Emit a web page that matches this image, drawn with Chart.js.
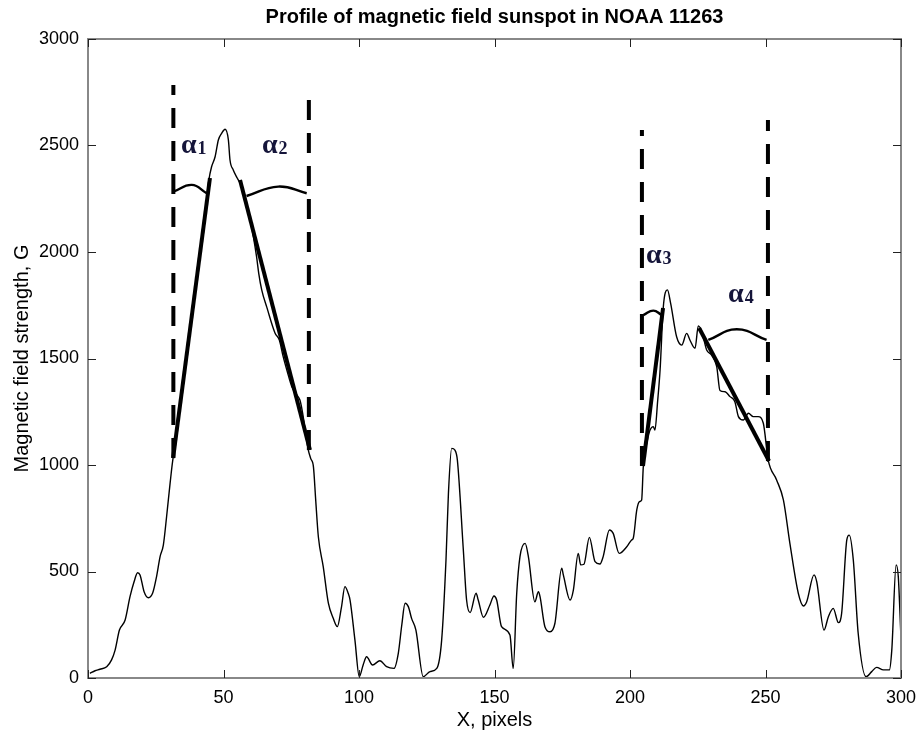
<!DOCTYPE html>
<html>
<head>
<meta charset="utf-8">
<script src="https://cdn.jsdelivr.net/npm/chart.js@4.4.1/dist/chart.umd.min.js"></script>
<style>
  html, body { margin: 0; padding: 0; background: #ffffff; }
  canvas { display: block; }
</style>
</head>
<body>
<canvas id="c" width="916" height="732"></canvas>
<script>
// ---- Data ----
const chartTitle = 'Profile of magnetic field sunspot in NOAA 11263';
const xAxisTitle = 'X, pixels';
const yAxisTitle = 'Magnetic field strength, G';

const xPixels = [0.7,2.6,4.4,6.9,8.7,10,11.6,13.7,15.5,17,18.3,19.2,20.7,22.3,23.9,25.3,26.6,27.8,29,30.3,31.4,32.1,33,34,35,36,37,38,39,40,41,42,43,44.6,45.6,46.9,48.1,49.3,50.6,51.8,52.4,53.6,55.1,56.7,57.9,60,62.2,63,64.1,66,69,70.6,72,73.5,75.2,77,78.2,79.2,80.3,81.3,82.2,83.2,84,85,86.8,88.7,90.5,92,93.5,94.8,96,96.7,98.5,100.1,101.5,102.8,105,107.7,110.2,112.9,114.5,115.8,117,118.2,119.4,121,123.7,126.2,128.7,130.5,132.1,133,134.2,135.4,136.3,138.5,139.7,141,143.2,144,145.9,148.3,149.8,150.8,152.6,155.7,156.9,158.2,159.4,161.3,162.5,164.9,166.2,166.8,168.6,170.5,172.3,174.8,175.4,177.9,179.1,180.9,181.8,183,185,187.1,188.9,190.1,192.4,193.8,196,198.8,200.6,201.2,202.5,203.5,204.3,204.9,206.5,207.4,208.6,209.2,210.2,211.1,212.3,213.8,215,217.2,219.1,220.9,222.1,224,225.2,226.5,228.3,230.1,232,233.2,235.1,236.9,238.7,240,241.8,243.7,245.5,247.3,249.2,251,254.1,256.6,259,262.1,264,265.2,267.9,268.9,271.6,273.2,275,276.9,278.1,280,280.9,282.4,284.2,287.1,289.2,291,293.5,295.7,296.6,298.2,299,299.9];
const fieldG = [22,34,41,53,85,131,225,272,382,452,494,484,405,377,400,476,570,624,757,915,1033,1075,1180,1285,1390,1485,1580,1680,1775,1870,1965,2060,2160,2338,2400,2447,2526,2557,2576,2526,2432,2385,2346,2307,2244,2140,1978,1900,1822,1740,1620,1587,1510,1440,1368,1330,1305,1244,1150,1070,1030,990,840,663,523,351,280,241,330,429,398,366,178,6,60,100,61,81,53,45,116,250,351,335,280,225,6,30,45,178,554,867,1078,1070,1023,601,366,307,398,366,285,343,385,366,241,202,45,398,570,632,570,358,405,382,241,217,257,515,484,366,413,585,531,534,660,546,535,570,695,679,585,616,648,656,789,828,836,990,1120,1164,1180,1164,1300,1446,1743,1822,1759,1602,1563,1618,1587,1548,1653,1626,1540,1516,1462,1350,1344,1321,1297,1227,1211,1243,1227,1227,1196,1023,930,836,632,398,338,358,484,452,225,288,327,260,304,648,671,554,210,6,30,50,38,38,131,531,476,217];

// slope (tangent) lines: [x1, y1, x2, y2]
const slopeLines = [
  [31.4, 1033, 45.0, 2347],
  [56.1, 2338, 81.9, 1070],
  [204.8, 995, 212.2, 1737],
  [225.5, 1643, 251.3, 1019]
];
// dashed verticals: [x, yBottom, yTop]
const verticalLines = [
  [31.5, 1033, 2784],
  [81.5, 1070, 2770],
  [204.4, 995, 2573],
  [250.9, 1019, 2620]
];
// angle arcs: [xStart, yStart, xMid, yMid, xEnd, yEnd]
const angleArcs = [
  [31.5, 2283, 38.3, 2315, 43.8, 2276],
  [58.5, 2263, 70.2, 2307, 80.7, 2276],
  [204.9, 1704, 208.6, 1725, 211.7, 1704],
  [228.9, 1587, 239.4, 1637, 250.4, 1587]
];
// angle labels: [text, subscript, x, y(baseline)]
const angleLabels = [
  ['α', '1', 34.3, 2465],
  ['α', '2', 64.2, 2465],
  ['α', '3', 205.9, 1948],
  ['α', '4', 236.2, 1765]
];
const xTickStep = 50;
const yTickStep = 500;

// ---- Build datasets ----
const datasets = [];
datasets.push({
  data: xPixels.map((x, i) => ({x: x, y: fieldG[i]})),
  borderColor: '#000000', borderWidth: 1.4, pointRadius: 0,
  cubicInterpolationMode: 'monotone', fill: false
});
slopeLines.forEach(l => datasets.push({
  data: [{x: l[0], y: l[1]}, {x: l[2], y: l[3]}],
  borderColor: '#000000', borderWidth: 4, pointRadius: 0, tension: 0
}));
verticalLines.forEach(l => datasets.push({
  data: [{x: l[0], y: l[1]}, {x: l[0], y: l[2]}],
  borderColor: '#000000', borderWidth: 4, pointRadius: 0, tension: 0,
  borderDash: [20, 13]
}));
angleArcs.forEach(a => datasets.push({
  data: [{x: a[0], y: a[1]}, {x: a[2], y: a[3]}, {x: a[4], y: a[5]}],
  borderColor: '#000000', borderWidth: 2.4, pointRadius: 0, tension: 0.45
}));

const fam = '"Liberation Sans", Arial, sans-serif';

// ---- Plugin: title over plot area, boxed axes with inward ticks, angle labels ----
const boxPlugin = {
  id: 'boxTicks',
  afterDatasetsDraw(chart) {
    const {ctx, chartArea: a, scales: {x, y}} = chart;
    ctx.save();
    // title centred over the plot area
    ctx.fillStyle = '#000000';
    ctx.font = 'bold 20px ' + fam;
    ctx.textAlign = 'center';
    ctx.textBaseline = 'middle';
    ctx.fillText(chartTitle, (a.left + a.right) / 2, 17);
    // angle labels
    ctx.fillStyle = '#15153a';
    ctx.textBaseline = 'alphabetic';
    angleLabels.forEach(l => {
      const px = x.getPixelForValue(l[2]);
      const py = y.getPixelForValue(l[3]);
      ctx.font = 'bold 28px "Liberation Serif", "DejaVu Serif", serif';
      ctx.textAlign = 'left';
      ctx.fillText(l[0], px, py);
      const w = ctx.measureText(l[0]).width;
      ctx.font = 'bold 18px "Liberation Serif", "DejaVu Serif", serif';
      ctx.fillText(l[1], px + w + 1, py + 1);
    });
    // box
    ctx.strokeStyle = '#888888';
    ctx.lineWidth = 2;
    ctx.strokeRect(a.left, a.top, a.right - a.left, a.bottom - a.top);
    // inward ticks
    ctx.strokeStyle = '#222222';
    ctx.lineWidth = 1;
    const tl = 8;
    ctx.beginPath();
    x.ticks.forEach(t => {
      const px = Math.round(x.getPixelForValue(t.value)) + 0.5;
      ctx.moveTo(px, a.bottom); ctx.lineTo(px, a.bottom - tl);
      ctx.moveTo(px, a.top); ctx.lineTo(px, a.top + tl);
    });
    y.ticks.forEach(t => {
      const py = Math.round(y.getPixelForValue(t.value)) + 0.5;
      ctx.moveTo(a.left, py); ctx.lineTo(a.left + tl, py);
      ctx.moveTo(a.right, py); ctx.lineTo(a.right - tl, py);
    });
    ctx.stroke();
    ctx.restore();
  }
};

const tickFont = {family: fam, size: 18};
const plainNumber = v => String(v);

new Chart(document.getElementById('c'), {
  type: 'line',
  data: {datasets: datasets},
  plugins: [boxPlugin],
  options: {
    responsive: false,
    animation: false,
    layout: {padding: {left: 0, right: 15, top: 39, bottom: 0}},
    plugins: {
      legend: {display: false},
      tooltip: {enabled: false},
      title: {display: false}
    },
    scales: {
      x: {
        type: 'linear', min: 0, max: 300,
        grid: {display: false, drawTicks: false},
        border: {display: false},
        ticks: {stepSize: xTickStep, color: '#000000', font: tickFont, padding: 9, maxRotation: 0, callback: plainNumber},
        title: {display: true, text: xAxisTitle, color: '#000000',
          font: {family: fam, size: 20}, padding: {top: 0, bottom: 0}},
        afterFit(s) { s.height = 54; s.paddingLeft = 0; s.paddingRight = 0; }
      },
      y: {
        type: 'linear', min: 0, max: 3000,
        grid: {display: false, drawTicks: false},
        border: {display: false},
        ticks: {stepSize: yTickStep, color: '#000000', font: tickFont, padding: 9, callback: plainNumber},
        title: {display: true, text: yAxisTitle, color: '#000000',
          font: {family: fam, size: 20}, padding: {top: 10, bottom: 0}},
        afterFit(s) { s.width = 88; s.paddingTop = 0; s.paddingBottom = 0; }
      }
    }
  }
});
</script>
</body>
</html>
